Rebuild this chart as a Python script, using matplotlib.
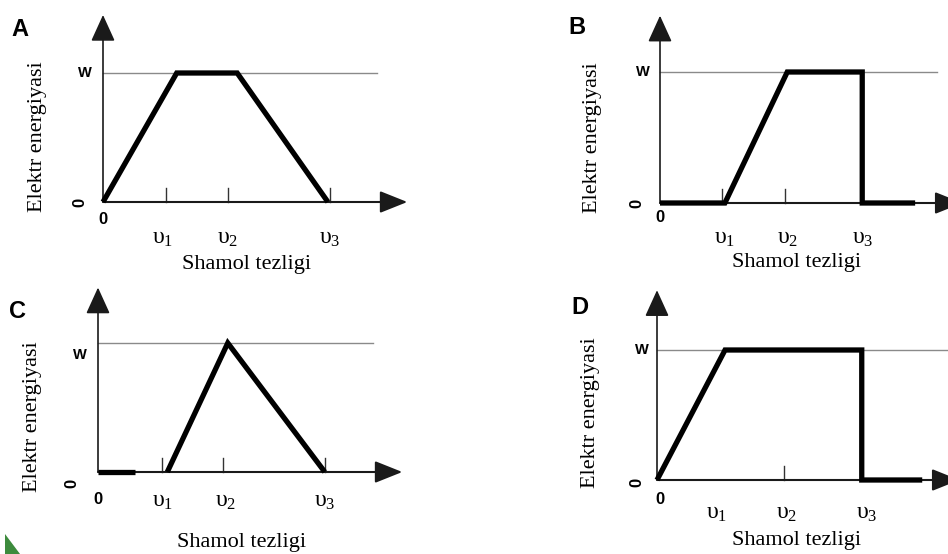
import matplotlib
matplotlib.use("Agg")
import matplotlib.pyplot as plt
from matplotlib.patches import Polygon

plt.rcParams['mathtext.fontset'] = 'custom'
plt.rcParams['mathtext.rm'] = 'Liberation Serif'
plt.rcParams['mathtext.it'] = 'Liberation Serif:italic'

# curves (speed in tick units, power as fraction of W)
speed_A = [0, 1.17, 2.13, 3.57]
power_A = [0, 1, 1, 0]
speed_B = [0, 1.03, 2.02, 3.21, 3.21, 4.05]
power_B = [0, 0, 1, 1, 0, 0]
speed_C = [1.1, 2.06, 3.6]
power_C = [0, 1, 0]
speed_C0 = [0, 0.59]
power_C0 = [0, 0]
speed_D = [0, 1.08, 3.25, 3.25, 4.21]
power_D = [0, 1, 1, 0, 0]

# tick marks and tick labels on the speed axis
ticks_A = [1.0, 1.98, 3.6]
ticks_B = [0.98, 1.98]
ticks_C = [1.02, 1.98, 3.6]
ticks_D = [2.02]
vlab_A = [0.95, 1.98, 3.6]
vlab_B = [1.03, 2.03, 3.22]
vlab_C = [1.03, 2.02, 3.6]
vlab_D = [0.95, 2.06, 3.33]
v_names = [r'$\mathrm{υ_1}$', r'$\mathrm{υ_2}$', r'$\mathrm{υ_3}$']

W, H = 948, 554
fig = plt.figure(figsize=(9.48, 5.54), dpi=100)

# ox, oy, sy, xtip, ytip, wend, curve data, offsets
panels = [
    dict(name="A", ox=103, oy=202, sy=129, xtip=4.83, ytip=1.45, wend=4.35,
         curves=[(speed_A, power_A)], ticks=ticks_A, vlab=vlab_A,
         v_dy=35, z_dy=18, z_dx=0, rz=(-23, 0), w_dx=-18, w_dy=0,
         let=(-83, 172), sh=(144, -63), yl=(-65, 65)),
    dict(name="B", ox=660, oy=203, sy=131, xtip=4.8, ytip=1.43, wend=4.4,
         curves=[(speed_B, power_B)], ticks=ticks_B, vlab=vlab_B,
         v_dy=34, z_dy=15, z_dx=0, rz=(-23, 0), w_dx=-17, w_dy=0,
         let=(-83, 176), sh=(137, -60), yl=(-67, 65)),
    dict(name="C", ox=98, oy=472, sy=129, xtip=4.83, ytip=1.43, wend=4.37,
         curves=[(speed_C, power_C), (speed_C0, power_C0)], ticks=ticks_C, vlab=vlab_C,
         v_dy=28, z_dy=28, z_dx=0, rz=(-26, -11), w_dx=-18, w_dy=-12,
         let=(-81, 160), sh=(144, -71), yl=(-65, 55)),
    dict(name="D", ox=657, oy=480, sy=130, xtip=4.8, ytip=1.46, wend=4.6,
         curves=[(speed_D, power_D)], ticks=ticks_D, vlab=vlab_D,
         v_dy=32, z_dy=19, z_dx=3, rz=(-20, -2), w_dx=-15, w_dy=0,
         let=(-77, 173), sh=(140, -60), yl=(-67, 67)),
]

sx = 63
px = 0.72  # points per pixel

for p in panels:
    ax = fig.add_axes([p['ox'] / W, (H - p['oy']) / H,
                       p['xtip'] * sx / W, p['ytip'] * p['sy'] / H])
    ax.set_xlim(0, p['xtip'])
    ax.set_ylim(0, p['ytip'])
    ax.axis('off')

    # W level line
    ax.plot([0, p['wend']], [1, 1], color='#8a8a8a', lw=1.0, clip_on=False)

    # axes with arrows
    ax.annotate('', xy=(p['xtip'], 0), xytext=(0, 0),
                arrowprops=dict(arrowstyle='-|>,head_length=1.0,head_width=0.4',
                                mutation_scale=17, lw=1.5, color='#1a1a1a',
                                shrinkA=0, shrinkB=0), annotation_clip=False)
    ax.annotate('', xy=(0, p['ytip']), xytext=(0, 0),
                arrowprops=dict(arrowstyle='-|>,head_length=1.1,head_width=0.5',
                                mutation_scale=15, lw=1.2, color='#1a1a1a',
                                shrinkA=0, shrinkB=0), annotation_clip=False)

    # tick marks
    for t in p['ticks']:
        ax.plot([t, t], [0, 14 / p['sy']], color='#333333', lw=1.0, clip_on=False)

    # curves
    for xs, ys in p['curves']:
        ax.plot(xs, ys, color='black', lw=3.8, solid_joinstyle='miter',
                solid_capstyle='butt', clip_on=False, zorder=5)

    # speed labels
    for v, name in zip(p['vlab'], v_names):
        ax.annotate(name, xy=(v, 0), xytext=(0, -p['v_dy'] * px),
                    textcoords='offset points', ha='center', va='center',
                    fontsize=17)

    # zeros
    ax.annotate('0', xy=(0, 0), xytext=(p['z_dx'] * px, -p['z_dy'] * px),
                textcoords='offset points', ha='center', va='center',
                fontsize=12, fontweight='bold', family='Liberation Sans')
    ax.annotate('0', xy=(0, 0), xytext=(p['rz'][0] * px, p['rz'][1] * px),
                textcoords='offset points', ha='center', va='center',
                fontsize=12, fontweight='bold', family='Liberation Sans', rotation=90)
    ax.annotate('W', xy=(0, 1), xytext=(p['w_dx'] * px, p['w_dy'] * px),
                textcoords='offset points', ha='center', va='center',
                fontsize=10.5, fontweight='bold', family='Liberation Sans')

    # panel letter
    ax.annotate(p['name'], xy=(0, 0), xytext=(p['let'][0] * px, p['let'][1] * px),
                textcoords='offset points', ha='center', va='center',
                fontsize=17, fontweight='bold', family='Liberation Sans')

    # axis titles
    ax.annotate('Shamol tezligi', xy=(0, 0), xytext=(p['sh'][0] * px, p['sh'][1] * px),
                textcoords='offset points', ha='center', va='center',
                fontsize=16, family='Liberation Serif')
    ax.annotate('Elektr energiyasi', xy=(0, 0), xytext=(p['yl'][0] * px, p['yl'][1] * px),
                textcoords='offset points', ha='center', va='center',
                fontsize=16, family='Liberation Serif', rotation=90)

# small green corner mark
fig.patches.append(Polygon([[5 / W, 0], [5 / W, 20 / H], [20 / W, 0]],
                           closed=True, transform=fig.transFigure,
                           facecolor='#3d8b3d', edgecolor='none'))

fig.savefig('out.png', dpi=100)
